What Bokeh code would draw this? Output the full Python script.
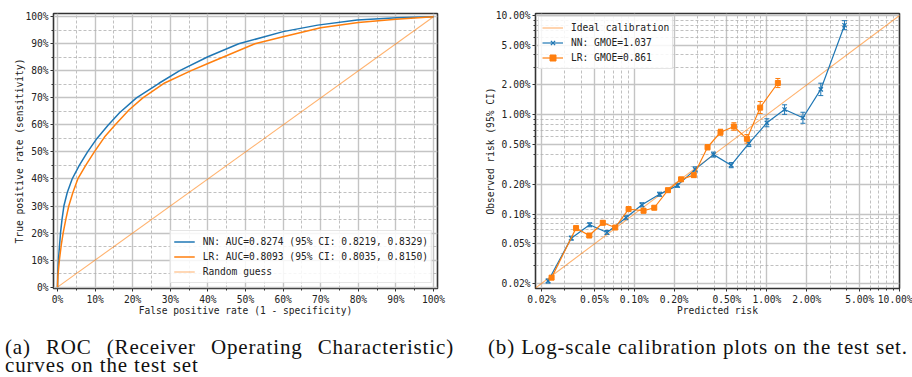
import math
from bokeh.plotting import figure
from bokeh.models import (FixedTicker, NumeralTickFormatter, CustomJSTickFormatter,
                          Legend, LegendItem, Whisker, TeeHead, Div, Range1d, ColumnDataSource)
from bokeh.layouts import row, column
from bokeh.embed import file_html
from bokeh.resources import INLINE

# ---------------- data ----------------
# ROC curves
nn_fpr = [0, 0.0005, 0.003, 0.008, 0.012, 0.017, 0.026, 0.039, 0.058, 0.08, 0.105, 0.135,
          0.165, 0.21, 0.27, 0.324, 0.40, 0.482, 0.60, 0.692, 0.797, 0.903, 1.0]
nn_tpr = [0, 0.04, 0.11, 0.20, 0.25, 0.30, 0.35, 0.40, 0.45, 0.50, 0.55, 0.60,
          0.645, 0.70, 0.754, 0.80, 0.852, 0.90, 0.945, 0.969, 0.988, 0.996, 1.0]
lr_fpr = [0, 0.001, 0.005, 0.01, 0.015, 0.022, 0.03, 0.041, 0.054, 0.075, 0.098, 0.125,
          0.153, 0.19, 0.227, 0.285, 0.354, 0.40, 0.525, 0.60, 0.70, 0.80, 0.90, 1.0]
lr_tpr = [0, 0.04, 0.10, 0.155, 0.20, 0.25, 0.30, 0.35, 0.40, 0.45, 0.50, 0.555,
          0.60, 0.655, 0.70, 0.755, 0.80, 0.827, 0.90, 0.926, 0.959, 0.979, 0.991, 1.0]
rand_x = [0.0, 1.0]
rand_y = [0.0, 1.0]
roc_labels = ["NN: AUC=0.8274 (95% CI: 0.8219, 0.8329)",
              "LR: AUC=0.8093 (95% CI: 0.8035, 0.8150)",
              "Random guess"]

# Calibration (fractions)
nn_pred = [0.000224, 0.000335, 0.000461, 0.000623, 0.000866, 0.001143, 0.001551, 0.00212,
           0.00288, 0.00396, 0.00538, 0.00732, 0.0100, 0.0136, 0.0187, 0.0255, 0.0385]
nn_obs = [0.000212, 0.000572, 0.000780, 0.000652, 0.000918, 0.00124, 0.00158, 0.001945,
          0.00282, 0.00397, 0.00311, 0.00516, 0.00830, 0.0113, 0.00933, 0.0180, 0.0798]
nn_lo = [0.000202, 0.000546, 0.000745, 0.000622, 0.000876, 0.00118, 0.00151, 0.00186,
         0.00266, 0.00375, 0.00293, 0.00478, 0.00757, 0.0101, 0.00821, 0.0156, 0.0719]
nn_hi = [0.000222, 0.000599, 0.000817, 0.000683, 0.000962, 0.00130, 0.00166, 0.00204,
         0.00299, 0.00421, 0.00330, 0.00557, 0.00911, 0.0126, 0.0106, 0.0208, 0.0886]

lr_pred = [0.000238, 0.000364, 0.000458, 0.000579, 0.000719, 0.000906, 0.001175, 0.001415,
           0.001795, 0.002253, 0.00281, 0.00357, 0.00447, 0.00564, 0.00707, 0.00890, 0.0121]
lr_obs = [0.000229, 0.000722, 0.000608, 0.000817, 0.000732, 0.001123, 0.00108, 0.001158,
          0.00174, 0.002237, 0.002466, 0.00471, 0.00667, 0.00762, 0.00572, 0.0118, 0.0209]
lr_lo = [0.000219, 0.000689, 0.000580, 0.000780, 0.000699, 0.00107, 0.00103, 0.00111,
         0.00166, 0.00214, 0.00235, 0.00444, 0.00622, 0.00698, 0.00518, 0.0103, 0.0188]
lr_hi = [0.000240, 0.000756, 0.000637, 0.000856, 0.000767, 0.00118, 0.00113, 0.00121,
         0.00182, 0.00234, 0.00258, 0.00499, 0.00715, 0.00832, 0.00632, 0.0136, 0.0232]
ideal = [0.00018, 0.1]
cal_labels = ["Ideal calibration", "NN: GMOE=1.037", "LR: GMOE=0.861"]

pct_ticks = [0.0, 0.1, 0.2, 0.3, 0.4, 0.5, 0.6, 0.7, 0.8, 0.9, 1.0]
pct_minor = [0.05, 0.15, 0.25, 0.35, 0.45, 0.55, 0.65, 0.75, 0.85, 0.95]
log_ticks = [0.0002, 0.0005, 0.001, 0.002, 0.005, 0.01, 0.02, 0.05, 0.1]

captions = ["(a) ROC (Receiver Operating Characteristic) curves on the test set",
            "(b) Log-scale calibration plots on the test set."]

# ---------------- style ----------------
FONT = "DejaVu Sans Mono"
FS = "9.6px"
BLUE = "#1f77b4"
ORANGE = "#ff7f0e"
DARK = "#333333"


def style(p):
    p.outline_line_color = DARK
    p.outline_line_width = 1.6
    p.background_fill_color = "white"
    p.border_fill_color = "white"
    for ax in p.axis:
        ax.axis_line_color = None
        ax.major_tick_line_color = DARK
        ax.minor_tick_line_color = DARK
        ax.major_tick_out = 3
        ax.major_tick_in = 0
        ax.minor_tick_out = 2
        ax.minor_tick_in = 0
        ax.major_label_text_font = FONT
        ax.major_label_text_font_size = FS
        ax.major_label_text_color = "#222222"
        ax.axis_label_text_font = FONT
        ax.axis_label_text_font_size = FS
        ax.axis_label_text_font_style = "normal"
        ax.axis_label_text_color = "#222222"
        ax.major_label_standoff = 2
    for ax in p.xaxis:
        ax.axis_label_standoff = -3
    for ax in p.yaxis:
        ax.axis_label_standoff = -3
    for g in p.grid:
        g.grid_line_color = "#c4c4c4"
        g.grid_line_width = 1.4
        g.minor_grid_line_color = "#b0b0b0"
        g.minor_grid_line_width = 0.8
        g.minor_grid_line_dash = "3 2"


def style_legend(lg):
    lg.label_text_font = FONT
    lg.label_text_font_size = FS
    lg.label_text_color = "#222222"
    lg.label_height = 12
    lg.glyph_width = 21
    lg.glyph_height = 15
    lg.spacing = -1
    lg.padding = 3
    lg.label_standoff = 8
    lg.border_line_color = "#cccccc"
    lg.border_line_width = 1
    lg.background_fill_alpha = 0.85


# ---------------- ROC plot ----------------
p1 = figure(frame_width=384, frame_height=275, min_border_left=53, min_border_right=12,
            min_border_top=12, min_border_bottom=51,
            x_range=Range1d(-0.0106, 1.0106), y_range=Range1d(-0.005, 1.012),
            output_backend="svg", toolbar_location=None,
            x_axis_label="False positive rate (1 - specificity)",
            y_axis_label="True positive rate (sensitivity)")
style(p1)
for ax in (p1.xaxis[0], p1.yaxis[0]):
    ax.ticker = FixedTicker(ticks=pct_ticks, minor_ticks=pct_minor)
    ax.formatter = NumeralTickFormatter(format="0%")

r_rand = p1.line(rand_x, rand_y, line_color=ORANGE, line_alpha=0.6, line_width=1.1)
r_nn = p1.line(nn_fpr, nn_tpr, line_color=BLUE, line_width=1.5)
r_lr = p1.line(lr_fpr, lr_tpr, line_color=ORANGE, line_width=1.5)

leg1 = Legend(items=[LegendItem(label=roc_labels[0], renderers=[r_nn]),
                     LegendItem(label=roc_labels[1], renderers=[r_lr]),
                     LegendItem(label=roc_labels[2], renderers=[r_rand])],
              location="bottom_right", margin=5)
style_legend(leg1)
p1.add_layout(leg1)

# ---------------- calibration plot ----------------
p2 = figure(x_axis_type="log", y_axis_type="log",
            frame_width=364, frame_height=275, min_border_left=86, min_border_right=13,
            min_border_top=13, min_border_bottom=50,
            x_range=Range1d(0.00018, 0.1), y_range=Range1d(0.000178, 0.1047),
            output_backend="svg", toolbar_location=None,
            x_axis_label="Predicted risk", y_axis_label="Observed risk (95% CI)")
style(p2)
log_minor = []
for e in range(-4, -1):
    for m in range(1, 10):
        v = m * 10.0 ** e
        if not any(abs(v - t) / t < 1e-6 for t in log_ticks):
            log_minor.append(v)
for ax in (p2.xaxis[0], p2.yaxis[0]):
    ax.ticker = FixedTicker(ticks=log_ticks, minor_ticks=log_minor)
    ax.formatter = CustomJSTickFormatter(code="return (tick*100).toFixed(2) + '%';")

r_ideal = p2.line(ideal, ideal, line_color=ORANGE, line_alpha=0.6, line_width=1.1)

nn_src = ColumnDataSource(dict(x=nn_pred, y=nn_obs, lo=nn_lo, hi=nn_hi))
lr_src = ColumnDataSource(dict(x=lr_pred, y=lr_obs, lo=lr_lo, hi=lr_hi))

nn_line = p2.line("x", "y", source=nn_src, line_color=BLUE, line_width=1.2)
nn_mark = p2.scatter("x", "y", source=nn_src, marker="x", size=6, line_color=BLUE, line_width=1.3)
p2.add_layout(Whisker(source=nn_src, base="x", lower="lo", upper="hi", dimension="height",
                      line_color=BLUE, line_width=1,
                      lower_head=TeeHead(size=5, line_color=BLUE, line_width=1),
                      upper_head=TeeHead(size=5, line_color=BLUE, line_width=1)))
lr_line = p2.line("x", "y", source=lr_src, line_color=ORANGE, line_width=1.2)
lr_mark = p2.scatter("x", "y", source=lr_src, marker="square", size=5, line_color=ORANGE,
                     fill_color=ORANGE)
p2.add_layout(Whisker(source=lr_src, base="x", lower="lo", upper="hi", dimension="height",
                      line_color=ORANGE, line_width=1,
                      lower_head=TeeHead(size=5, line_color=ORANGE, line_width=1),
                      upper_head=TeeHead(size=5, line_color=ORANGE, line_width=1)))

# legend-only error bar symbols
nn_bar = p2.scatter(x=[], y=[], marker="dash", angle=math.pi / 2, line_color=BLUE, line_width=1.2)
lr_bar = p2.scatter(x=[], y=[], marker="dash", angle=math.pi / 2, line_color=ORANGE, line_width=1.2)

leg2 = Legend(items=[LegendItem(label=cal_labels[0], renderers=[r_ideal]),
                     LegendItem(label=cal_labels[1], renderers=[nn_line, nn_bar, nn_mark]),
                     LegendItem(label=cal_labels[2], renderers=[lr_line, lr_bar, lr_mark])],
              location="top_left", margin=3)
style_legend(leg2)
p2.add_layout(leg2)

# ---------------- captions ----------------
cap_style = {"font-family": "'Liberation Serif', 'Times New Roman', serif",
             "font-size": "21px", "letter-spacing": "0.85px", "line-height": "18px",
             "color": "#111111"}
div_a = Div(text=captions[0], width=449, height=39, margin=(0, 0, 0, 5),
            styles={**cap_style, "text-align": "justify"})
div_b = Div(text=captions[1], width=458, height=39, margin=(0, 0, 0, 0),
            styles={**cap_style, "text-indent": "34px", "white-space": "nowrap"})

layout = column(row(p1, p2), row(div_a, div_b))

open("out.html", "w").write(file_html(layout, INLINE))
